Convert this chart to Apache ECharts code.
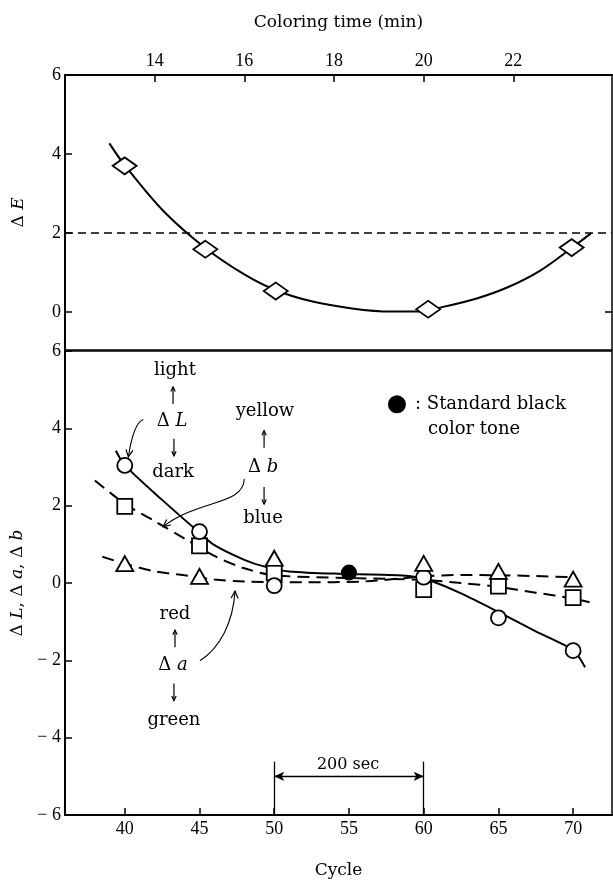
<!DOCTYPE html>
<html><head><meta charset="utf-8">
<script src="https://cdn.jsdelivr.net/npm/echarts@6/dist/echarts.min.js"></script>
<style>html,body{margin:0;padding:0;background:#fff}#c{width:613px;height:884px}</style>
</head><body><div id="c"></div>
<script>
// ---------------- data ----------------
const timeTicks  = [14, 16, 18, 20, 22];            // coloring time (min), top axis
const cycleTicks = [40, 45, 50, 55, 60, 65, 70];    // cycle, bottom axis
const deTicks    = [0, 2, 4, 6];
const labTicks   = [-6, -4, -2, 0, 2, 4, 6];

// top panel: ΔE vs coloring time (min)
const deltaE_points = [[13.33, 3.70], [15.13, 1.59], [16.7, 0.53], [20.1, 0.07], [23.3, 1.63]];
const deltaE_curve  = [[12.99, 4.27], [13.33, 3.72], [14.2, 2.55], [15.13, 1.62], [16.0, 0.95],
                       [16.7, 0.55], [17.5, 0.27], [18.4, 0.09], [19.27, 0.01], [19.83, 0.01],
                       [20.43, 0.13], [21.2, 0.35], [21.9, 0.64], [22.6, 1.05], [23.3, 1.62], [23.73, 1.99]];
const deltaE_limit = 2;

// bottom panel: ΔL, Δa, Δb vs cycle
const cycles = [40, 45, 50, 60, 65, 70];
const dL = [3.04, 1.33, -0.07, 0.15, -0.90, -1.75];
const da = [0.50, 0.17, 0.64, 0.51, 0.30, 0.10];
const db = [1.98, 0.96, 0.26, -0.17, -0.08, -0.38];
const standardBlack = [[55, 0.27]];

const dL_curve = [[39.4, 3.42], [40, 3.05], [42.5, 2.15], [45, 1.3], [46, 0.98], [48, 0.6], [49.3, 0.43],
                  [51, 0.3], [55, 0.23], [59, 0.18], [60.6, 0.04], [62.5, -0.27], [65, -0.75],
                  [67.5, -1.25], [70, -1.73], [70.4, -1.92], [70.8, -2.18]];
const db_curve = [[38, 2.65], [40, 2.05], [42, 1.6], [44, 1.15], [46, 0.7], [48, 0.38], [50, 0.2],
                  [55, 0.13], [60, 0.08], [62.5, 0.0], [65, -0.1], [67.5, -0.25], [70, -0.4], [71.1, -0.5]];
const da_curve = [[38.5, 0.68], [40, 0.5], [42, 0.3], [44, 0.2], [46, 0.09], [48, 0.04], [52, 0.02],
                  [56, 0.04], [60, 0.17], [62.5, 0.21], [65, 0.2], [67.5, 0.18], [70, 0.15]];

const period = [50, 60];   // 200 sec span (cycles)

// ---------------- chart ----------------
const chart = echarts.init(document.getElementById('c'), null, {renderer: 'canvas'});
const TICKF = 'Liberation Serif';
const TXTF = 'DejaVu Serif';
const K = '#000';
const pairs = (xs, ys) => xs.map((x, i) => [x, ys[i]]);
const minus = v => (v < 0 ? '\u2212 ' + (-v) : String(v));

const axisCommon = {
  type: 'value',
  axisLine: {show: true, onZero: false, lineStyle: {color: K, width: 2}},
  axisTick: {show: true, inside: true, length: 7, lineStyle: {color: K, width: 1.5}},
  axisLabel: {color: K, fontFamily: TICKF, fontSize: 18},
  splitLine: {show: false}
};
const nameStyle = {color: K, fontFamily: TXTF, fontSize: 17,
  rich: {n: {fontFamily: TXTF, fontSize: 17, color: K}, i: {fontFamily: TXTF, fontStyle: 'italic', fontSize: 17, color: K}}};

const marker = (sym, size) => ({
  symbol: sym, symbolSize: size,
  itemStyle: {color: '#fff', borderColor: K, borderWidth: 1.8, opacity: 1}
});

chart.setOption({
  animation: false,
  backgroundColor: '#fff',
  grid: [
    {left: 65, top: 75, width: 547, height: 275, show: true, borderColor: K, borderWidth: 1.5, backgroundColor: 'transparent'},
    {left: 65, top: 351, width: 547, height: 468, show: true, borderColor: K, borderWidth: 1.5, backgroundColor: 'transparent'}
  ],
  xAxis: [
    Object.assign({}, axisCommon, {
      gridIndex: 0, position: 'top', min: 12, max: 24.2,
      axisTick: Object.assign({}, axisCommon.axisTick, {customValues: timeTicks}),
      axisLabel: Object.assign({}, axisCommon.axisLabel, {customValues: timeTicks, margin: 5}),
      name: 'Coloring time (min)', nameLocation: 'middle', nameGap: 44, nameTextStyle: nameStyle
    }),
    Object.assign({}, axisCommon, {
      gridIndex: 1, position: 'bottom', min: 36, max: 72.6,
      axisTick: Object.assign({}, axisCommon.axisTick, {customValues: cycleTicks}),
      axisLabel: Object.assign({}, axisCommon.axisLabel, {customValues: cycleTicks, margin: 5}),
      name: 'Cycle', nameLocation: 'middle', nameGap: 47, nameTextStyle: nameStyle
    })
  ],
  yAxis: [
    Object.assign({}, axisCommon, {
      gridIndex: 0, min: -0.962, max: 6,
      axisTick: Object.assign({}, axisCommon.axisTick, {customValues: deTicks}),
      axisLabel: Object.assign({}, axisCommon.axisLabel, {customValues: deTicks, margin: 4}),
      name: '{n|\u0394 }{i|E}', nameLocation: 'middle', nameGap: 38, nameTextStyle: nameStyle
    }),
    Object.assign({}, axisCommon, {
      gridIndex: 1, min: -6, max: 6, interval: 2,
      axisLabel: Object.assign({}, axisCommon.axisLabel, {margin: 4, formatter: minus}),
      name: '{n|\u0394 }{i|L}{n|, \u0394 }{i|a}{n|, \u0394 }{i|b}', nameLocation: 'middle', nameGap: 38, nameTextStyle: nameStyle
    }),
    // right-hand frame of the upper panel carries a tick at 0
    Object.assign({}, axisCommon, {
      gridIndex: 0, min: -0.962, max: 6, position: 'right',
      axisLine: {show: false},
      axisTick: Object.assign({}, axisCommon.axisTick, {customValues: [0]}),
      axisLabel: {show: false}
    })
  ],
  series: [
    {type: 'line', xAxisIndex: 0, yAxisIndex: 0, data: deltaE_curve, smooth: 0.35, showSymbol: false,
     lineStyle: {color: K, width: 2}, z: 2,
     markLine: {silent: true, symbol: 'none', label: {show: false},
       lineStyle: {color: K, width: 1.6, type: [8, 5]}, data: [{yAxis: deltaE_limit}]}},
    Object.assign({type: 'scatter', xAxisIndex: 0, yAxisIndex: 0, data: deltaE_points, z: 5}, marker('diamond', [24, 17])),

    {type: 'line', xAxisIndex: 1, yAxisIndex: 1, data: dL_curve, smooth: 0.3, showSymbol: false,
     lineStyle: {color: K, width: 2}, z: 2},
    {type: 'line', xAxisIndex: 1, yAxisIndex: 1, data: db_curve, smooth: 0.3, showSymbol: false,
     lineStyle: {color: K, width: 2, type: [12, 7]}, z: 2},
    {type: 'line', xAxisIndex: 1, yAxisIndex: 1, data: da_curve, smooth: 0.3, showSymbol: false,
     lineStyle: {color: K, width: 2, type: [12, 7]}, z: 2},
    Object.assign({type: 'scatter', xAxisIndex: 1, yAxisIndex: 1, data: pairs(cycles, db), z: 5}, marker('rect', 15)),
    Object.assign({type: 'scatter', xAxisIndex: 1, yAxisIndex: 1, data: pairs(cycles, dL), z: 6}, marker('circle', 15)),
    Object.assign({type: 'scatter', xAxisIndex: 1, yAxisIndex: 1, data: pairs(cycles, da), z: 7}, marker('triangle', [17, 15])),
    {type: 'scatter', xAxisIndex: 1, yAxisIndex: 1, data: standardBlack, symbol: 'circle', symbolSize: 16,
     itemStyle: {color: K, opacity: 1}, z: 8},
    {type: 'line', xAxisIndex: 1, yAxisIndex: 1, data: [], silent: true,
     markLine: {silent: true, label: {show: false}, symbol: 'none',
       lineStyle: {color: K, width: 1.3, type: 'solid'},
       data: [
         [{coord: [period[0], -4.62]}, {coord: [period[0], -6]}],
         [{coord: [period[1], -4.62]}, {coord: [period[1], -6]}],
         [{coord: [period[0], -5.0], symbol: 'arrow', symbolSize: [7, 10]}, {coord: [period[1], -5.0], symbol: 'arrow', symbolSize: [7, 10]}]
       ]}}
  ]
});

// ---------------- annotations (positioned in data space of the lower panel) ----------------
const P = (c, v) => chart.convertToPixel({xAxisIndex: 1, yAxisIndex: 1}, [c, v]);
const richAnn = {
  n: {fontFamily: TXTF, fontSize: 18, fill: K},
  i: {fontFamily: TXTF, fontSize: 18, fontStyle: 'italic', fill: K}
};
const texts = [
  ['light', [43.36, 5.51]], ['{n|\u0394 }{i|L}', [43.16, 4.18]], ['dark', [43.23, 2.87]],
  ['yellow', [49.38, 4.44]], ['{n|\u0394 }{i|b}', [49.25, 3.0]], ['blue', [49.25, 1.67]],
  ['red', [43.36, -0.82]], ['{n|\u0394 }{i|a}', [43.23, -2.13]], ['green', [43.29, -3.54]]
];
const elems = [];
texts.forEach(([t, at]) => {
  const p = P(at[0], at[1]);
  elems.push({type: 'text', x: p[0], y: p[1], silent: true,
    style: {text: t, rich: richAnn, fontFamily: TXTF, fontSize: 18, fill: K, align: 'center', verticalAlign: 'middle'}});
});
function head(tip, from, len) {
  const dx = tip[0] - from[0], dy = tip[1] - from[1];
  const L = Math.hypot(dx, dy) || 1, ux = dx / L, uy = dy / L;
  const a = 0.45;
  const w1 = [tip[0] - len * (ux * Math.cos(a) - uy * Math.sin(a)), tip[1] - len * (uy * Math.cos(a) + ux * Math.sin(a))];
  const w2 = [tip[0] - len * (ux * Math.cos(a) + uy * Math.sin(a)), tip[1] - len * (uy * Math.cos(a) - ux * Math.sin(a))];
  return {type: 'polyline', silent: true, shape: {points: [w1, tip, w2]}, style: {stroke: K, lineWidth: 1.2, fill: null}};
}
// straight vertical arrows (up / down)
const vArrows = [[[43.23, 4.85], 'up'], [[43.29, 3.51], 'down'], [[49.32, 3.72], 'up'], [[49.32, 2.26], 'down'],
                 [[43.36, -1.44], 'up'], [[43.29, -2.82], 'down']];
vArrows.forEach(([at, dir]) => {
  const p = P(at[0], at[1]);
  const h = 8.5;
  const top = [p[0], p[1] - h], bot = [p[0], p[1] + h];
  elems.push({type: 'line', silent: true, shape: {x1: top[0], y1: top[1], x2: bot[0], y2: bot[1]}, style: {stroke: K, lineWidth: 1.2}});
  elems.push(dir === 'up' ? head(top, bot, 5) : head(bot, top, 5));
});
// curved pointer arrows
const curves = [
  [[41.24, 4.23], [40.68, 4.15], [40.42, 3.72], [40.24, 3.26]],
  [[48.0, 2.69], [47.91, 2.0], [45.03, 2.18], [42.56, 1.46]],
  [[45.03, -2.01], [46.37, -1.67], [47.24, -1.03], [47.38, -0.21]]
];
curves.forEach(c => {
  const s = P(...c[0]), c1 = P(...c[1]), c2 = P(...c[2]), e = P(...c[3]);
  elems.push({type: 'bezierCurve', silent: true,
    shape: {x1: s[0], y1: s[1], cpx1: c1[0], cpy1: c1[1], cpx2: c2[0], cpy2: c2[1], x2: e[0], y2: e[1]},
    style: {stroke: K, lineWidth: 1.1, fill: null}});
  elems.push(head(e, c2, 8));
});
// legend for the standard black colour tone
const dot = P(58.21, 4.62);
elems.push({type: 'circle', silent: true, shape: {cx: dot[0], cy: dot[1], r: 9}, style: {fill: K}});
const lg1 = P(59.42, 4.62), lg2 = P(60.29, 3.97);
elems.push({type: 'text', silent: true, x: lg1[0], y: lg1[1],
  style: {text: ': Standard black', fontFamily: TXTF, fontSize: 18, fill: K, align: 'left', verticalAlign: 'middle'}});
elems.push({type: 'text', silent: true, x: lg2[0], y: lg2[1],
  style: {text: 'color tone', fontFamily: TXTF, fontSize: 18, fill: K, align: 'left', verticalAlign: 'middle'}});
// 200 sec label
const sp = P(54.94, -4.69);
elems.push({type: 'text', silent: true, x: sp[0], y: sp[1],
  style: {text: '200 sec', fontFamily: TXTF, fontSize: 16, fill: K, align: 'center', verticalAlign: 'middle'}});

chart.setOption({graphic: {elements: elems}});
</script>
</body></html>
